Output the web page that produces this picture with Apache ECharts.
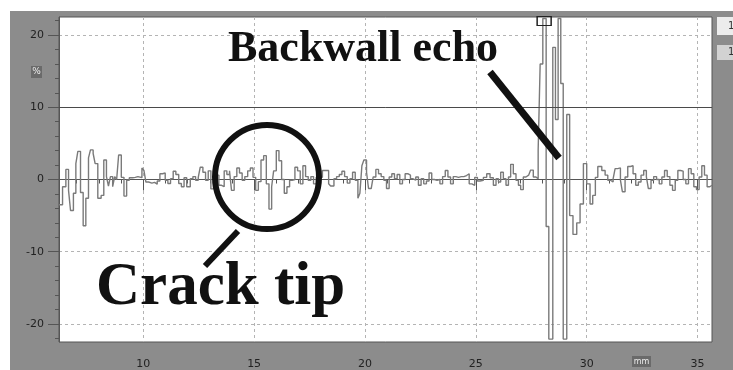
<!DOCTYPE html>
<html>
<head>
<meta charset="utf-8">
<script src="https://cdn.jsdelivr.net/npm/echarts@6.0.0/dist/echarts.min.js"></script>
<style>
  html, body { margin: 0; padding: 0; background: #fff; }
  #frame { position: absolute; left: 10px; top: 11px; width: 723px; height: 359px; background: #8c8c8c; }
  #chart { position: absolute; left: 0; top: 0; width: 733px; height: 370px; }
</style>
</head>
<body>
<div id="frame"></div>
<div id="chart"></div>
<script>
// A-scan: amplitude (%) vs depth (mm), sampled as steps
const sigX = [
  6.20, 6.36, 6.51, 6.63, 6.72, 6.85, 6.96, 7.05, 7.17, 7.29,
  7.41, 7.53, 7.62, 7.74, 7.83, 7.95, 8.10, 8.22, 8.34, 8.43,
  8.52, 8.62, 8.71, 8.80, 8.89, 9.01, 9.13, 9.25, 9.37, 9.52,
  9.64, 9.76, 9.94, 10.03, 10.12, 10.24, 10.39, 10.51, 10.63, 10.75,
  10.87, 10.99, 11.11, 11.23, 11.35, 11.47, 11.60, 11.72, 11.84, 11.96,
  12.12, 12.24, 12.36, 12.48, 12.57, 12.69, 12.81, 12.93, 13.05, 13.17,
  13.29, 13.41, 13.53, 13.65, 13.77, 13.89, 13.98, 14.10, 14.22, 14.34,
  14.46, 14.58, 14.71, 14.83, 14.95, 15.07, 15.19, 15.31, 15.43, 15.55,
  15.67, 15.79, 15.88, 16.00, 16.12, 16.24, 16.36, 16.48, 16.60, 16.72,
  16.84, 16.96, 17.08, 17.20, 17.32, 17.44, 17.56, 17.68, 17.80, 17.92,
  18.08, 18.36, 18.45, 18.60, 18.72, 18.84, 18.96, 19.08, 19.20, 19.32,
  19.44, 19.56, 19.68, 19.77, 19.86, 19.95, 20.07, 20.16, 20.28, 20.37,
  20.49, 20.61, 20.73, 20.85, 20.97, 21.09, 21.21, 21.33, 21.45, 21.57,
  21.69, 21.81, 21.93, 22.05, 22.17, 22.29, 22.41, 22.53, 22.65, 22.77,
  22.89, 23.01, 23.13, 23.25, 23.38, 23.50, 23.62, 23.74, 23.86, 23.98,
  24.10, 24.22, 24.34, 24.46, 24.58, 24.70, 24.82, 24.95, 25.07,
  25.19, 25.34, 25.49, 25.64, 25.79, 25.91, 26.02, 26.12, 26.24, 26.36,
  26.47, 26.57, 26.69, 26.81, 26.92, 27.02, 27.14, 27.26, 27.38, 27.47,
  27.59, 27.71,
  27.81, 27.90, 28.02, 28.17, 28.29, 28.47, 28.59, 28.71, 28.83, 28.94,
  29.10, 29.23, 29.38, 29.55, 29.70, 29.85, 30.00, 30.15, 30.27, 30.39,
  30.50, 30.68, 30.83, 30.95, 31.07, 31.19, 31.28, 31.40, 31.52, 31.61,
  31.73, 31.85, 31.97, 32.09, 32.21, 32.33, 32.45, 32.57, 32.69, 32.78,
  32.90, 33.02, 33.15, 33.27, 33.39, 33.51, 33.63, 33.75, 33.87, 33.99,
  34.11, 34.23, 34.35, 34.47, 34.59, 34.71, 34.83, 34.95, 35.07, 35.19,
  35.31, 35.43, 35.55, 35.65
];
const sigY = [
  -3.5, -1.0, 1.4, -1.5, -4.3, -1.9, 2.2, 3.9, -1.8, -6.4,
  -2.6, 3.0, 4.1, 3.6, 2.2, -2.6, -2.2, 2.7, 0.4, -0.9,
  0.4, -1.0, 0.4, 0, 3.4, 0.3, -2.3, -0.1, 0.25, 0.3,
  0.4, 0.25, 1.6, 1.25, -0.35, -0.5, -0.4, -0.65, -0.2, 0.8,
  0.9, -0.1, -0.55, 0.1, 1.15, 0.7, -0.55, -1.0, 0.25, -1.0,
  0.1, 0.4, -0.1, 0.3, 1.7, 1.0, -0.1, 1.2, -1.3, -0.3,
  0.6, -0.8, -1.0, 1.2, 0.7, 1.2, -1.5, 0.4, 1.6, 0.9,
  -0.1, 0.4, 1.2, 1.6, 0.3, -1.5, -0.3, 2.7, 3.3, -0.6,
  -4.1, -1.0, 1.2, 4.0, 2.6, 0, -1.9, -1.0, -0.1, 0,
  1.7, 1.2, -0.6, 1.9, 0.4, -0.1, 0.4, -0.6, 0.3, 0.3,
  1.25, -0.6, -0.9, 0.1, 0.4, 0.7, 1.15, 0.4, -0.5, 0.1,
  1.0, -0.1, -2.6, -1.9, 1.9, 2.7, 1.0, -1.25, -1.0, 0.35,
  1.4, 0.8, 0.4, -0.1, -1.25, 0.35, 0.8, 0.1, 0.7, -0.6,
  0, 0.8, 0.6, 0.1, -0.1, 0.35, -0.8, 0.1, -0.6, -0.2,
  0.9, 0, -0.1, 0, -0.6, 0.4, 1.25, 0.35, -0.6, 0.4,
  0.3, 0.4, 0.4, 0.55, 0.8, -0.6, -0.8, 0.3, -0.2,
  -0.1, 0.3, 0.8, 0.25, -0.8, 0.1, -0.35, 1.0, 0.1, -0.8,
  0.35, 2.1, 0.8, -0.1, -0.8, -1.4, 0.35, 0.6, 0.35, 1.3,
  0.35, 0.1,
  4.1, 16.0, 22.3, -6.5, -22.1, 18.3, 8.3, 22.3, 13.3, -22.1,
  9.0, -5.0, -7.6, -6.0, -3.4, 2.2, -0.6, -3.4, -2.2, 0.3,
  1.8, 1.25, 0.6, -0.1, -0.35, 0.1, 1.5, 1.6, -0.1, -1.7,
  0.35, 1.8, 1.9, 0.8, -0.8, -0.35, 0.6, 1.25, 0.35, -1.25,
  -0.1, 0.4, 0, -0.6, 0.35, 1.25, 0.4, -0.8, -1.5, -0.1,
  1.25, 1.15, 0, -0.6, 1.5, 0.8, -1.0, -1.4, 0.35, 1.9,
  0.6, -1.0, -0.8, -0.8
];

const xMajor = [10, 15, 20, 25, 30, 35];
const xMinor = [7, 8, 9, 10, 11, 12, 13, 14, 15, 16, 17, 18, 19, 20, 21, 22, 23, 24, 25,
  26, 27, 28, 29, 30, 31, 32, 33, 34, 35];
const yMajor = [-20, -10, 0, 10, 20];
const yMinor = [-22, -20, -18, -16, -14, -12, -10, -8, -6, -4, -2, 0, 2, 4, 6, 8,
  10, 12, 14, 16, 18, 20, 22];
const gateLevel = 10;
const cursorAt = [28.08, 21.95];

const axisColor = '#555';
const labelFont = { color: '#222', fontSize: 11, fontFamily: 'DejaVu Sans' };
const gridDash = { type: [3, 3], color: '#b4b4b4', width: 1 };

const chart = echarts.init(document.getElementById('chart'), null, { renderer: 'canvas' });

chart.setOption({
  animation: false,
  grid: {
    left: 59, top: 17, width: 653, height: 330,
    show: true, backgroundColor: '#fff', borderColor: axisColor, borderWidth: 1
  },
  xAxis: [
    {
      type: 'value', min: 6.2, max: 35.65, position: 'bottom',
      axisLine: { lineStyle: { color: axisColor } },
      axisTick: { customValues: xMajor, length: 11, lineStyle: { color: axisColor } },
      axisLabel: Object.assign({ customValues: xMajor, margin: 17 }, labelFont),
      splitLine: { show: true, lineStyle: gridDash }
    },
    {
      type: 'value', min: 6.2, max: 35.65, position: 'bottom', gridIndex: 0,
      axisLine: { show: false },
      axisTick: { customValues: xMinor, length: 4, lineStyle: { color: axisColor } },
      axisLabel: { show: false },
      splitLine: { show: false }
    }
  ],
  yAxis: [
    {
      type: 'value', min: -22.5, max: 22.5, position: 'left',
      axisLine: { show: true, lineStyle: { color: axisColor } },
      axisTick: { show: true, customValues: yMajor, length: 11, lineStyle: { color: axisColor } },
      axisLabel: Object.assign({ customValues: yMajor, margin: 15 }, labelFont),
      splitLine: { show: true, lineStyle: gridDash }
    },
    {
      type: 'value', min: -22.5, max: 22.5, position: 'left', gridIndex: 0,
      axisLine: { show: false },
      axisTick: { show: true, customValues: yMinor, length: 4, lineStyle: { color: axisColor } },
      axisLabel: { show: false },
      splitLine: { show: false }
    }
  ],
  series: [
    {
      type: 'line',
      xAxisIndex: 0,
      yAxisIndex: 0,
      step: 'end',
      showSymbol: false,
      clip: true,
      data: sigX.map((x, i) => [x, sigY[i]]),
      lineStyle: { color: '#7a7a7a', width: 1.4 },
      markLine: {
        silent: true,
        symbol: 'none',
        label: { show: false },
        lineStyle: { color: '#4a4a4a', width: 1, type: 'solid' },
        data: [{ yAxis: gateLevel }]
      },
      markPoint: {
        silent: true,
        symbol: 'rect',
        symbolSize: [14, 9],
        label: { show: false },
        itemStyle: { color: 'rgba(0,0,0,0)', borderColor: '#222', borderWidth: 1.2 },
        data: [{ coord: cursorAt }]
      }
    }
  ],
  graphic: [
    // unit badges
    { type: 'rect', shape: { x: 31, y: 66, width: 11, height: 12 }, style: { fill: '#6a6a6a' }, z: 50 },
    { type: 'text', style: { x: 36.5, y: 72, text: '%', fill: '#eee', font: '9px "DejaVu Sans"', align: 'center', verticalAlign: 'middle' }, z: 51 },
    { type: 'rect', shape: { x: 632, y: 356, width: 19, height: 11 }, style: { fill: '#6a6a6a' }, z: 50 },
    { type: 'text', style: { x: 641.5, y: 361.5, text: 'mm', fill: '#eee', font: '8px "DejaVu Sans"', align: 'center', verticalAlign: 'middle' }, z: 51 },
    // side buttons
    { type: 'rect', shape: { x: 717, y: 17, width: 20, height: 18 }, style: { fill: '#ececec' }, z: 50 },
    { type: 'text', style: { x: 728, y: 26, text: '1', fill: '#333', font: '10px "DejaVu Sans"', verticalAlign: 'middle' }, z: 51 },
    { type: 'rect', shape: { x: 717, y: 45, width: 20, height: 15 }, style: { fill: '#d2d2d2' }, z: 50 },
    { type: 'text', style: { x: 728, y: 52.5, text: '1', fill: '#333', font: '10px "DejaVu Sans"', verticalAlign: 'middle' }, z: 51 },
    // annotations
    { type: 'circle', shape: { cx: 267, cy: 177, r: 52 }, style: { fill: 'none', stroke: '#111', lineWidth: 6 }, z: 100 },
    { type: 'line', shape: { x1: 238, y1: 231, x2: 205, y2: 266 }, style: { stroke: '#111', lineWidth: 6 }, z: 100 },
    { type: 'line', shape: { x1: 490, y1: 72, x2: 559, y2: 158 }, style: { stroke: '#111', lineWidth: 7 }, z: 100 },
    { type: 'text', style: { x: 228, y: 50, text: 'Backwall echo', fill: '#111', font: 'bold 44px "Liberation Serif"', verticalAlign: 'middle' }, z: 100 },
    { type: 'text', style: { x: 96, y: 288, text: 'Crack tip', fill: '#111', font: 'bold 61px "Liberation Serif"', verticalAlign: 'middle' }, z: 100 }
  ]
});
</script>
</body>
</html>
